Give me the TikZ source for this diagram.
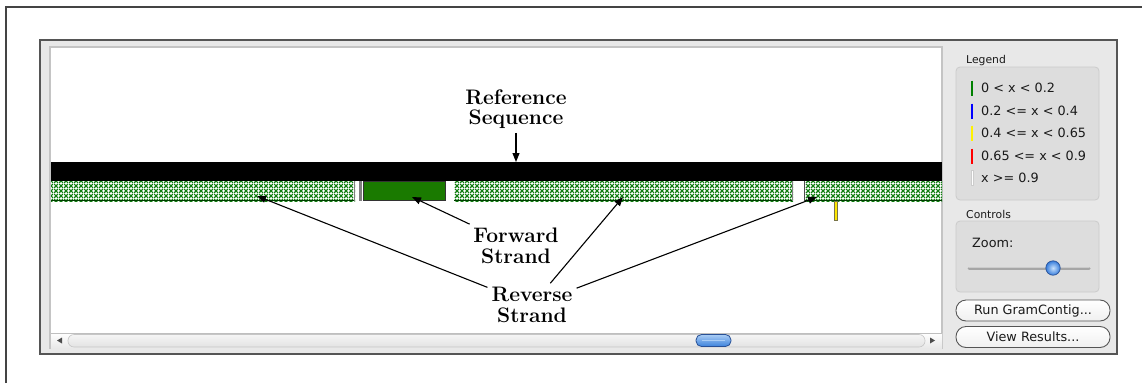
\documentclass[tikz,border=0pt]{standalone}
\usepackage{fontspec}
\newfontfamily\uifont{DejaVu Sans}
\usetikzlibrary{arrows.meta,patterns.meta,shadings}

\definecolor{framegray}{HTML}{444444}
\definecolor{winbg}{HTML}{E8E8E8}
\definecolor{winedge}{HTML}{555555}
\definecolor{canvasedge}{HTML}{C4C4C4}
\definecolor{groupbg}{HTML}{DDDDDD}
\definecolor{groupedge}{HTML}{CBCBCB}
\definecolor{hatchgreen}{RGB}{15,125,15}
\definecolor{fwdgreen}{RGB}{26,122,0}
\definecolor{uitext}{HTML}{1A1A1A}
\definecolor{thumbtop}{RGB}{170,205,245}
\definecolor{thumbbot}{RGB}{60,130,220}
\definecolor{thumbedge}{RGB}{40,80,150}
\definecolor{balllight}{RGB}{200,225,252}
\definecolor{balldark}{RGB}{55,125,220}

% crossed diagonal hatch for the reverse-strand reads
\pgfdeclarepattern{
  name=strandhatch, type=uncolored,
  bottom left={\pgfpoint{0pt}{0pt}}, top right={\pgfpoint{4.5pt}{4.5pt}},
  tile size={\pgfpoint{4.5pt}{4.5pt}},
  code={
    \pgfsetlinewidth{1.25pt}
    \pgfpathmoveto{\pgfpoint{0pt}{0pt}}\pgfpathlineto{\pgfpoint{4.5pt}{4.5pt}}
    \pgfpathmoveto{\pgfpoint{0pt}{4.5pt}}\pgfpathlineto{\pgfpoint{4.5pt}{0pt}}
    \pgfusepath{stroke}
  }}

\tikzset{
  lbl/.style={font=\fontsize{21}{20.5}\selectfont\bfseries, align=center, inner sep=4pt},
  arr/.style={-{Triangle[length=9pt,width=7pt]}, line width=1.1pt},
  revread/.style={pattern={strandhatch}, pattern color=hatchgreen},
  uitxt/.style={font=\uifont\fontsize{12.8}{14}\selectfont, text=uitext, inner sep=0pt},
  grouptitle/.style={font=\uifont\fontsize{10.8}{12}\selectfont, text=uitext, inner sep=0pt, anchor=base west},
  groupbox/.style={fill=groupbg, draw=groupedge, line width=0.8pt, rounded corners=4pt},
  legbar/.style={line width=2.5pt},
  uibutton/.style={draw=winedge, line width=0.9pt, rounded corners=10pt, top color=white, bottom color=gray!12,
    minimum width=154pt, minimum height=21pt, font=\uifont\fontsize{12.8}{14}\selectfont, text=uitext}
}

\begin{document}
\begin{tikzpicture}[x=1pt,y=-1pt]
\useasboundingbox (0,0) rectangle (1142,383);

% page frame
\draw[framegray, line width=1.4pt] (6,383) -- (6,7) -- (1142,7);

% application window
\draw[fill=winbg, draw=winedge, line width=1.2pt] (40,40) rectangle (1117,354);
\draw[fill=white, draw=canvasedge, line width=1.2pt] (50,47) rectangle (942,348);

% reference sequence bar
\fill[black] (51,162) rectangle (942,181);

% reverse-strand reads
\fill[white] (51,181) rectangle (355,201);
\fill[revread] (51,181) rectangle (355,201);
\fill[white] (454,181) rectangle (793,201);
\fill[revread] (454,181) rectangle (793,201);
\fill[white] (804,181) rectangle (942,201);
\fill[revread] (804,181) rectangle (942,201);
\draw[black!75!green, line width=1pt] (51,200.5) -- (355,200.5) (454,200.5) -- (793,200.5) (804,200.5) -- (942,200.5);
\draw[gray, line width=1.3pt] (354.5,181) -- (354.5,201) (792.5,181) -- (792.5,201);
\draw[black!70, line width=1pt] (804.5,181) -- (804.5,201);
\fill[gray] (359,181) rectangle (361.5,201);

% forward-strand read
\draw[fill=fwdgreen, draw=black!80, line width=1pt] (363.5,181.5) rectangle (445,200.5);

% short low-score read below the reverse strand
\draw[fill=yellow!90!orange, draw=black!60!yellow, line width=0.6pt] (834,201) rectangle (837,220);

% scroll bar
\shade[top color=white, bottom color=gray!18] (51,333) rectangle (942,348);
\draw[gray!50, line width=0.6pt] (51,333) -- (942,333);
\shade[top color=gray!8, bottom color=gray!22, draw=gray!45, line width=0.6pt, rounded corners=6pt] (68,334.5) rectangle (925,347);
\fill[black!70] (57,340.5) -- (62,337.5) -- (62,343.5) -- cycle;
\fill[black!70] (935,340.5) -- (930,337.5) -- (930,343.5) -- cycle;
\shade[top color=thumbtop, bottom color=thumbbot, draw=thumbedge, line width=0.8pt, rounded corners=5.5pt]
  (696,334.5) rectangle (731,346.5);
\draw[thumbtop, line width=0.6pt] (702,340.5) -- (725,340.5);

% legend group
\node[grouptitle] (legtitle) at (966,63) {Legend};
\path[groupbox] (956,67) rectangle (1099,200);
\foreach \n/\col/\y/\t in {1/{green!50!black}/88/{0 < x < 0.2},
                            2/blue/111/{0.2 <= x < 0.4},
                            3/yellow/133/{0.4 <= x < 0.65},
                            4/red/156/{0.65 <= x < 0.9},
                            5/white/178/{x >= 0.9}}{
  \draw[legbar, \col] (972,\y-7.5) -- (972,\y+7.5);
  \node[uitxt, anchor=west] (leg\n) at (981,\y) {\t};
}
\draw[gray!40, line width=0.5pt] (970.75,170.5) rectangle (973.25,185.5);

% controls group
\node[grouptitle] (ctltitle) at (966,218) {Controls};
\path[groupbox] (956,221) rectangle (1099,292);
\node[uitxt, anchor=west] (zoomlbl) at (972,243) {Zoom:};
\draw[line cap=round, line width=3pt, gray!70] (969,268) -- (1089,268);
\draw[line cap=round, line width=1pt, gray!40] (969,267) -- (1089,267);
\shade[inner color=balllight, outer color=balldark] (1053,268) circle (7.2);
\draw[thumbedge, line width=0.7pt] (1053,268) circle (7.2);

% buttons
\node[uibutton] (runbtn) at (1033,310.5) {Run GramContig...};
\node[uibutton] (viewbtn) at (1033,337) {View Results...};

% annotations
\node[lbl] (refl) at (516,109) {Reference\\Sequence};
\node[lbl] (fwdl) at (516,246) {Forward\\Strand};
\node[lbl] (revl) at (532,305) {Reverse\\Strand};

\coordinate (refhit) at (516,162);
\coordinate (fwdhit) at (412,197);
\coordinate (rev1hit) at (257,196);
\coordinate (rev2hit) at (623,197);
\coordinate (rev3hit) at (817,197);

\draw[arr] (refl) -- (refhit);
\draw[arr] (fwdl) -- (fwdhit);
\draw[arr] (revl) -- (rev1hit);
\draw[arr] (revl) -- (rev2hit);
\draw[arr] (revl) -- (rev3hit);
\end{tikzpicture}
\end{document}
